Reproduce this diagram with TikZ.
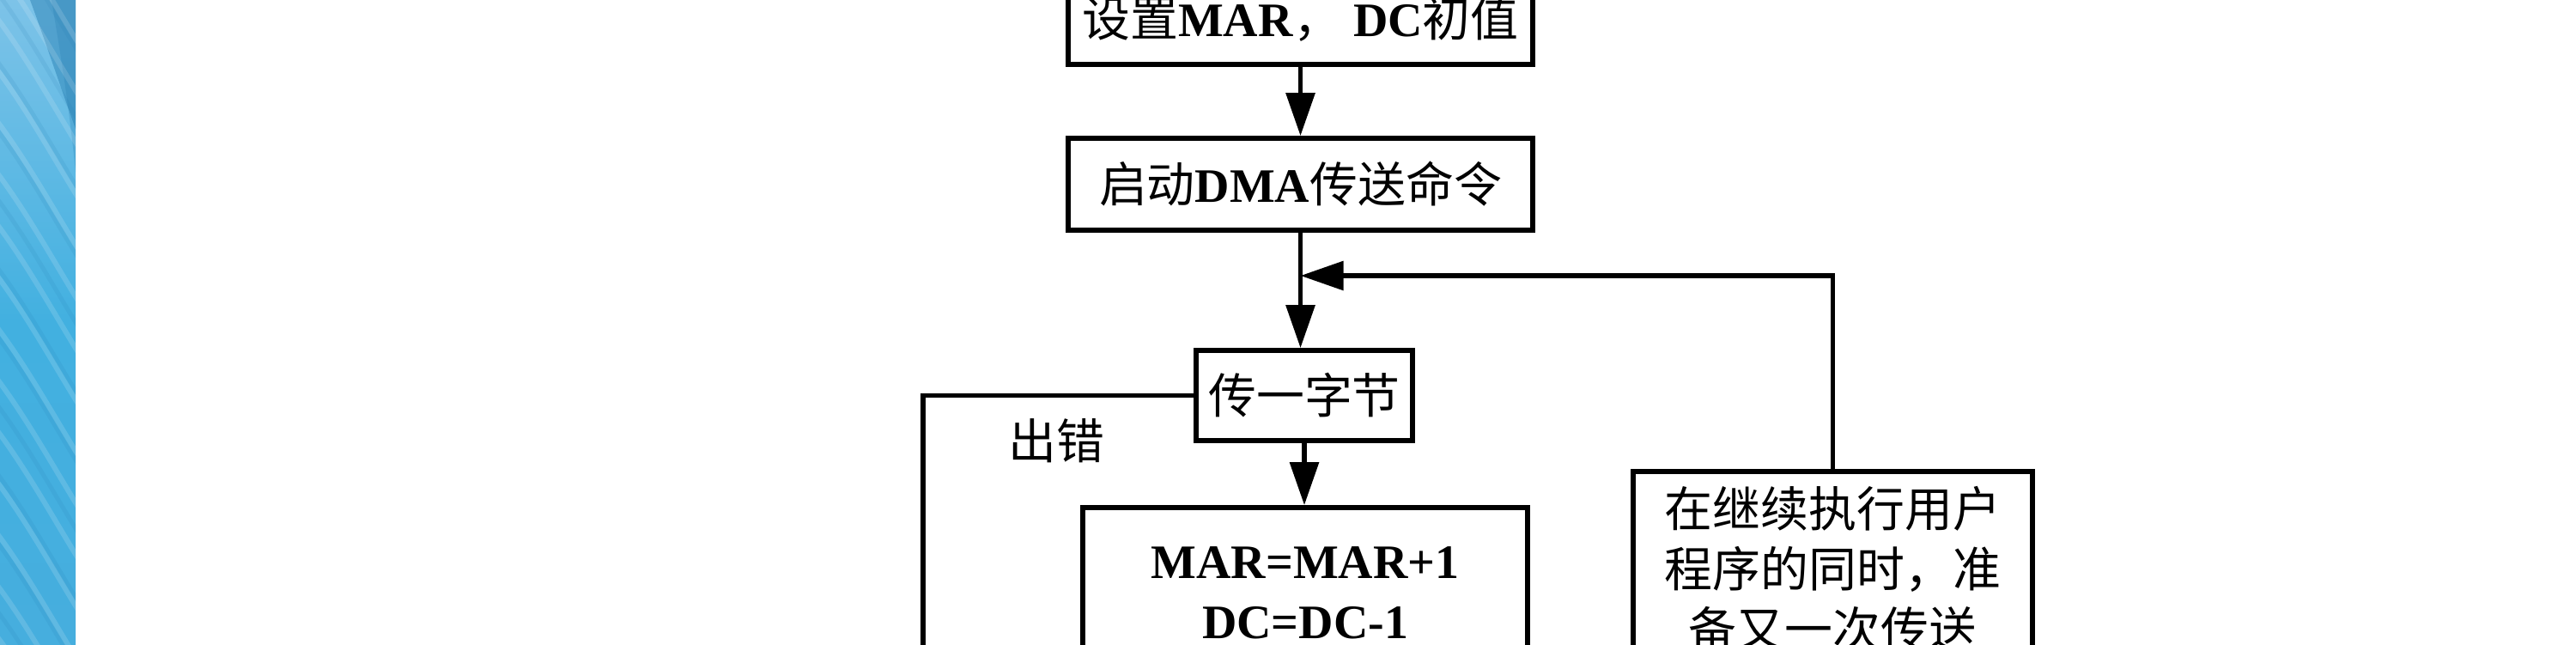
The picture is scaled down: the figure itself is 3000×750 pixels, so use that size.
\documentclass[tikz,border=0pt]{standalone}
\usepackage{fontspec}
\setmainfont{Liberation Serif}
\newfontfamily\cjk{Noto Sans CJK SC}
\newcommand\zh[1]{{\cjk #1}}
\usetikzlibrary{arrows.meta}
\definecolor{bandtop}{RGB}{125,195,232}
\definecolor{banddark}{RGB}{36,124,176}
\definecolor{bandmid}{RGB}{66,176,224}
\definecolor{bandbot}{RGB}{70,174,222}
\begin{document}
\begin{tikzpicture}[x=0.01cm,y=-0.01cm,
  flowbox/.style={draw,line width=0.055cm,inner sep=0pt,align=center,
    font=\fontsize{15.9pt}{19.9pt}\selectfont},
  lbl/.style={inner sep=0pt,font=\fontsize{15.9pt}{19.9pt}\selectfont},
  flow/.style={line width=0.058cm},
  tip/.style={-{Triangle[length=0.5cm,width=0.33cm]}}]
\useasboundingbox (0,0) rectangle (3000,750);
\clip (0,0) rectangle (3000,750);
\fill[white] (0,0) rectangle (3000,750);
% decorative blue band
\begin{scope}
\clip (0,0) rectangle (88,750);
\shade[top color=bandtop,bottom color=bandbot,middle color=bandmid] (0,0) rectangle (88,750);
\fill[banddark,opacity=0.45] (88,0) -- (35,0) .. controls (50,40) and (70,100) .. (88,150) -- cycle;
\fill[banddark,opacity=0.25] (88,0) -- (60,0) .. controls (70,60) and (80,120) .. (88,200) -- cycle;
\foreach \k in {-300,-240,...,900}
  \draw[white,opacity=0.14,line width=0.06cm] (-20,\k) .. controls (30,\k+60) and (70,\k+140) .. (110,\k+200);
\foreach \k in {-300,-220,...,900}
  \draw[banddark,opacity=0.12,line width=0.05cm] (-20,\k+30) .. controls (30,\k+90) and (70,\k+170) .. (110,\k+230);
\end{scope}
% boxes
\node[flowbox,minimum width=5.41cm,minimum height=1.07cm] (b1) at (1514.5,21.5)
  {\zh{设置}\textbf{MAR}\zh{，} \textbf{DC}\zh{初值}};
\node[flowbox,minimum width=5.41cm,minimum height=1.07cm] (b2) at (1514.5,214.5)
  {\zh{启动}\textbf{DMA}\zh{传送命令}};
\node[flowbox,minimum width=2.52cm,minimum height=1.05cm] (b3) at (1519,460.5)
  {\zh{传一字节}};
\node[flowbox,minimum width=5.18cm,minimum height=1.98cm] (b4) at (1520,690)
  {\textbf{MAR=MAR+1}\\\textbf{DC=DC-1}};
\node[flowbox,minimum width=4.65cm,minimum height=2.26cm] (b5) at (2134.5,662)
  {\zh{在继续执行用户}\\\zh{程序的同时，准}\\\zh{备又一次传送}};
\node[lbl] (err) at (1230,513) {\zh{出错}};
% connectors
\coordinate (j) at (1514.5,321);
\coordinate (e) at (1075,800);
\draw[flow,tip] (b1.south) -- (b2.north);
\draw[flow,tip] (b2.south) -- (b2.south |- b3.north);
\draw[flow,tip] (b3.south) -- (b3.south |- b4.north);
\draw[flow,tip] (b5.north) |- (j);
\draw[flow] (b3.west) -| (e);
\end{tikzpicture}
\end{document}
